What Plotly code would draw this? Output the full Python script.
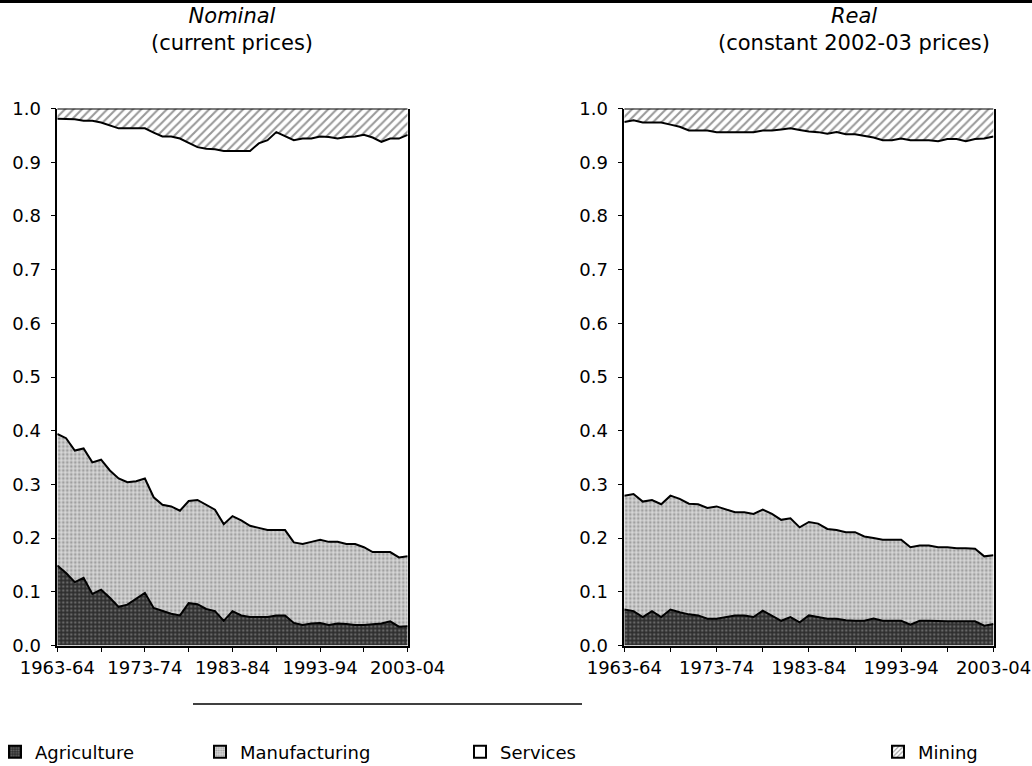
import plotly.graph_objects as go

W, H = 1032, 766

years = [f"{y}-{(y + 1) % 100:02d}" for y in range(1963, 2004)]
tick_labels = ["1963-64", "", "1973-74", "", "1983-84", "", "1993-94", "", "2003-04"]

# Nominal (current prices) shares
nom_agriculture = [0.149, 0.135, 0.118, 0.126, 0.096, 0.104, 0.089, 0.072, 0.076, 0.087,
                   0.098, 0.070, 0.064, 0.059, 0.056, 0.079, 0.077, 0.068, 0.064, 0.046,
                   0.064, 0.056, 0.053, 0.053, 0.053, 0.056, 0.056, 0.042, 0.038, 0.041,
                   0.042, 0.038, 0.041, 0.040, 0.038, 0.038, 0.039, 0.041, 0.045, 0.035, 0.036]
nom_manufacturing = [0.245, 0.251, 0.245, 0.241, 0.245, 0.242, 0.237, 0.239, 0.228, 0.219,
                     0.213, 0.206, 0.198, 0.200, 0.195, 0.190, 0.194, 0.194, 0.189, 0.180,
                     0.177, 0.177, 0.170, 0.166, 0.162, 0.159, 0.159, 0.150, 0.151, 0.152,
                     0.155, 0.155, 0.152, 0.149, 0.151, 0.145, 0.135, 0.133, 0.129, 0.129, 0.130]
nom_services = [0.587, 0.595, 0.617, 0.610, 0.636, 0.628, 0.642, 0.652, 0.659, 0.657,
                0.652, 0.679, 0.686, 0.689, 0.693, 0.667, 0.657, 0.663, 0.671, 0.695,
                0.680, 0.688, 0.698, 0.716, 0.726, 0.741, 0.733, 0.749, 0.755, 0.751,
                0.751, 0.754, 0.751, 0.758, 0.759, 0.768, 0.772, 0.764, 0.770, 0.780, 0.785]
nom_mining = [0.019, 0.019, 0.020, 0.023, 0.023, 0.026, 0.032, 0.037, 0.037, 0.037,
              0.037, 0.045, 0.052, 0.052, 0.056, 0.064, 0.072, 0.075, 0.076, 0.079,
              0.079, 0.079, 0.079, 0.065, 0.059, 0.044, 0.052, 0.059, 0.056, 0.056,
              0.052, 0.053, 0.056, 0.053, 0.052, 0.049, 0.054, 0.062, 0.056, 0.056, 0.049]

# Real (constant 2002-03 prices) shares
real_agriculture = [0.067, 0.064, 0.053, 0.064, 0.053, 0.067, 0.062, 0.058, 0.056, 0.050,
                    0.050, 0.053, 0.056, 0.056, 0.053, 0.065, 0.056, 0.046, 0.053, 0.043,
                    0.056, 0.053, 0.050, 0.050, 0.047, 0.046, 0.046, 0.050, 0.046, 0.046,
                    0.046, 0.039, 0.046, 0.046, 0.045, 0.045, 0.045, 0.045, 0.045, 0.037, 0.040]
real_manufacturing = [0.212, 0.218, 0.215, 0.207, 0.210, 0.212, 0.211, 0.206, 0.207, 0.206,
                      0.209, 0.200, 0.192, 0.192, 0.192, 0.188, 0.189, 0.188, 0.184, 0.177,
                      0.174, 0.174, 0.167, 0.165, 0.164, 0.165, 0.157, 0.150, 0.151, 0.151,
                      0.151, 0.144, 0.140, 0.140, 0.138, 0.138, 0.136, 0.136, 0.135, 0.129, 0.128]
real_services = [0.696, 0.696, 0.706, 0.703, 0.711, 0.691, 0.693, 0.695, 0.696, 0.703,
                 0.697, 0.703, 0.708, 0.708, 0.711, 0.706, 0.714, 0.727, 0.726, 0.740,
                 0.727, 0.729, 0.736, 0.741, 0.741, 0.741, 0.746, 0.746, 0.744, 0.744,
                 0.747, 0.758, 0.755, 0.755, 0.756, 0.760, 0.762, 0.758, 0.763, 0.778, 0.780]
real_mining = [0.025, 0.022, 0.026, 0.026, 0.026, 0.030, 0.034, 0.041, 0.041, 0.041,
               0.044, 0.044, 0.044, 0.044, 0.044, 0.041, 0.041, 0.039, 0.037, 0.040,
               0.043, 0.044, 0.047, 0.044, 0.048, 0.048, 0.051, 0.054, 0.059, 0.059,
               0.056, 0.059, 0.059, 0.059, 0.061, 0.057, 0.057, 0.061, 0.057, 0.056, 0.052]

sectors = ["Agriculture", "Manufacturing", "Services", "Mining"]

FONT = "DejaVu Sans, Liberation Sans, Arial, sans-serif"

patterns = {
    "Agriculture": dict(shape=".", bgcolor="#2e2e2e", fgcolor="#a0a0a0", size=4, solidity=0.35),
    "Manufacturing": dict(shape=".", bgcolor="#d6d6d6", fgcolor="#6a6a6a", size=4, solidity=0.4),
    "Services": dict(shape="", bgcolor="white", fgcolor="white"),
    "Mining": dict(shape="/", bgcolor="white", fgcolor="#333333", size=6, solidity=0.35),
}
fills = {"Agriculture": "#333333", "Manufacturing": "#d6d6d6", "Services": "white", "Mining": "white"}

fig = go.Figure()

panels = [
    ("x", "y", [nom_agriculture, nom_manufacturing, nom_services, nom_mining]),
    ("x2", "y2", [real_agriculture, real_manufacturing, real_services, real_mining]),
]
for xa, ya, series in panels:
    for name, vals in zip(sectors, series):
        fig.add_trace(go.Scatter(
            x=years, y=vals, xaxis=xa, yaxis=ya, mode="lines",
            stackgroup="s" + xa, name=name, showlegend=False,
            line=dict(color="black", width=2),
            fillcolor=fills[name],
            fillpattern=patterns[name] if patterns[name]["shape"] else None,
            hoverinfo="skip",
        ))

# legend entries (square swatches)
legend_ids = ["legend", "legend2", "legend3", "legend4"]
for name, lid in zip(sectors, legend_ids):
    pat = patterns[name]
    marker = dict(color=fills[name], line=dict(color="black", width=1))
    if pat["shape"]:
        marker["pattern"] = dict(shape=pat["shape"], bgcolor=pat["bgcolor"], fgcolor=pat["fgcolor"],
                                 size=3 if pat["shape"] == "." else 4, solidity=pat["solidity"])
    fig.add_trace(go.Bar(x=[years[0]], y=[None], name=name, marker=marker,
                         legend=lid, showlegend=True, xaxis="x", yaxis="y"))

def pxx(v):
    return v / W

def pxy(v):
    return 1 - v / H

ydom = [pxy(645.5), pxy(108.5)]
axis_common = dict(
    showline=True, linecolor="black", linewidth=1.5, ticks="outside", ticklen=5,
    tickcolor="black", tickfont=dict(family=FONT, size=18, color="black"),
    showgrid=False, zeroline=False,
)
xcommon = dict(axis_common, type="category", range=[0, 40],
               tickvals=years[::5], ticktext=tick_labels, tickangle=0)
ycommon = dict(axis_common, range=[0, 1], tickvals=[i / 10 for i in range(11)],
               tickformat=".1f", mirror=True, ticklabelstandoff=6)

legend_common = dict(orientation="h", yanchor="middle", y=pxy(752), xanchor="left",
                     font=dict(family=FONT, size=18, color="black"),
                     bgcolor="rgba(0,0,0,0)", borderwidth=0, itemsizing="constant",
                     itemwidth=30)

title_font = dict(family=FONT, size=21, color="black")

fig.update_layout(
    width=W, height=H,
    margin=dict(l=0, r=0, t=0, b=0, autoexpand=False),
    paper_bgcolor="white", plot_bgcolor="white",
    xaxis=dict(xcommon, domain=[pxx(57.3), pxx(407.7)], anchor="y"),
    yaxis=dict(ycommon, domain=ydom, anchor="x"),
    xaxis2=dict(xcommon, domain=[pxx(624.3), pxx(993.5)], anchor="y2"),
    yaxis2=dict(ycommon, domain=ydom, anchor="x2"),
    legend=dict(legend_common, x=pxx(-5)),
    legend2=dict(legend_common, x=pxx(200)),
    legend3=dict(legend_common, x=pxx(460)),
    legend4=dict(legend_common, x=pxx(878)),
    showlegend=True,
    annotations=[
        dict(text="<i>Nominal</i><br>(current prices)", x=pxx(232), y=pxy(29),
             xref="paper", yref="paper", showarrow=False, xanchor="center",
             yanchor="middle", align="center", font=title_font),
        dict(text="<i>Real</i><br>(constant 2002-03 prices)", x=pxx(854), y=pxy(29),
             xref="paper", yref="paper", showarrow=False, xanchor="center",
             yanchor="middle", align="center", font=title_font),
    ],
    shapes=[
        dict(type="rect", xref="paper", yref="paper", x0=0, x1=1, y0=pxy(3), y1=1,
             fillcolor="black", line=dict(width=0)),
        dict(type="line", xref="paper", yref="paper", x0=pxx(193), x1=pxx(582),
             y0=pxy(704), y1=pxy(704), line=dict(color="black", width=1.5)),
    ],
)

fig.write_html("out.html", config={"displayModeBar": False},
               post_script="document.body.style.margin='0';")
